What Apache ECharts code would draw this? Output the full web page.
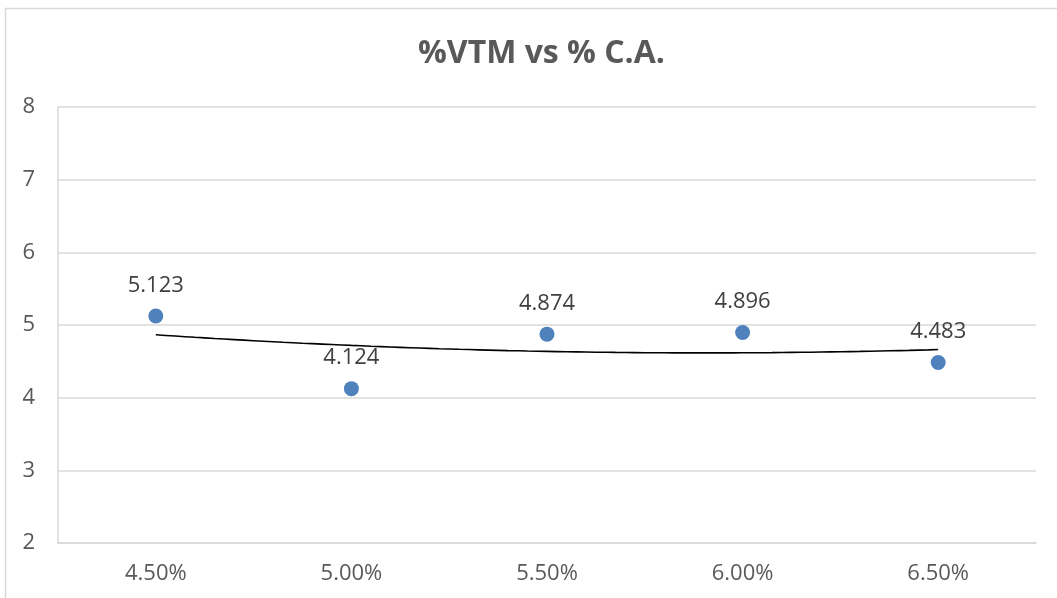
<!DOCTYPE html>
<html>
<head>
<meta charset="utf-8">
<script src="https://cdn.jsdelivr.net/npm/echarts@6/dist/echarts.min.js"></script>
<style>
html,body{margin:0;padding:0;background:#fff;}
#c{width:1057px;height:598px;}
</style>
</head>
<body>
<div id="c"></div>
<script>
var categories = ['4.50%', '5.00%', '5.50%', '6.00%', '6.50%'];
var vtmValues = [5.123, 4.124, 4.874, 4.896, 4.483];
var yTicks = [2, 3, 4, 5, 6, 7, 8];

// Polynomial (order 2) trendline fitted to the data, as in the original chart
function polyFit2(ys) {
  var n = ys.length, S = [0,0,0,0,0], T = [0,0,0];
  for (var i = 0; i < n; i++) {
    var x = i + 1, p = 1;
    for (var k = 0; k < 5; k++) { S[k] += p; if (k < 3) T[k] += p * ys[i]; p *= x; }
  }
  var A = [[S[0],S[1],S[2],T[0]],[S[1],S[2],S[3],T[1]],[S[2],S[3],S[4],T[2]]];
  for (var c = 0; c < 3; c++) {
    for (var r = c + 1; r < 3; r++) {
      var f = A[r][c] / A[c][c];
      for (var k = c; k < 4; k++) A[r][k] -= f * A[c][k];
    }
  }
  var b = [0,0,0];
  for (var r = 2; r >= 0; r--) {
    var s = A[r][3];
    for (var k = r + 1; k < 3; k++) s -= A[r][k] * b[k];
    b[r] = s / A[r][r];
  }
  return b;
}
var coef = polyFit2(vtmValues);
var trend = [];
for (var j = 0; j <= 80; j++) {
  var xi = j / 80 * (vtmValues.length - 1);
  var x = xi + 1;
  trend.push([xi, coef[0] + coef[1] * x + coef[2] * x * x]);
}

var font = '"Open Sans", "Liberation Sans", sans-serif';
var chart = echarts.init(document.getElementById('c'));
chart.setOption({
  animation: false,
  backgroundColor: '#fff',
  graphic: [{
    type: 'rect', shape: { x: 5.5, y: 8.5, width: 1200, height: 800 },
    style: { fill: 'none', stroke: '#d9d9d9', lineWidth: 1.5 }, silent: true, z: -1
  }],
  title: {
    text: '%VTM vs % C.A.', left: 413, top: 33,
    textStyle: { fontFamily: font, fontSize: 32, fontWeight: 'bold', color: '#595959' }
  },
  grid: { left: 58, top: 107, right: 21, bottom: 55 },
  xAxis: [{
    type: 'category', data: categories, boundaryGap: true,
    axisLine: { show: true, onZero: false, lineStyle: { color: '#d9d9d9', width: 1.5 } },
    axisTick: { show: false },
    axisLabel: { fontFamily: font, fontSize: 22, color: '#595959', margin: 20 },
    splitLine: { show: false }
  }, {
    type: 'value', min: -0.5, max: vtmValues.length - 0.5, show: false
  }],
  yAxis: {
    type: 'value', min: yTicks[0], max: yTicks[yTicks.length - 1], interval: 1,
    axisLine: { show: true, onZero: false, lineStyle: { color: '#d9d9d9', width: 1.5 } },
    axisTick: { show: false },
    axisLabel: { fontFamily: font, fontSize: 22, color: '#595959', margin: 23 },
    splitLine: { lineStyle: { color: '#d9d9d9', width: 1.5 } }
  },
  series: [{
    type: 'line', xAxisIndex: 1, data: trend, showSymbol: false, symbol: 'none',
    lineStyle: { color: '#000', width: 1.6 }, z: 2
  }, {
    type: 'scatter', xAxisIndex: 0,
    data: vtmValues, symbolSize: 15,
    itemStyle: { color: '#4f81bd', opacity: 1 },
    label: {
      show: true, position: 'top', distance: 12,
      fontFamily: font, fontSize: 22, color: '#404040',
      formatter: function (p) { return p.value.toFixed(3); }
    },
    z: 3
  }]
});
</script>
</body>
</html>
